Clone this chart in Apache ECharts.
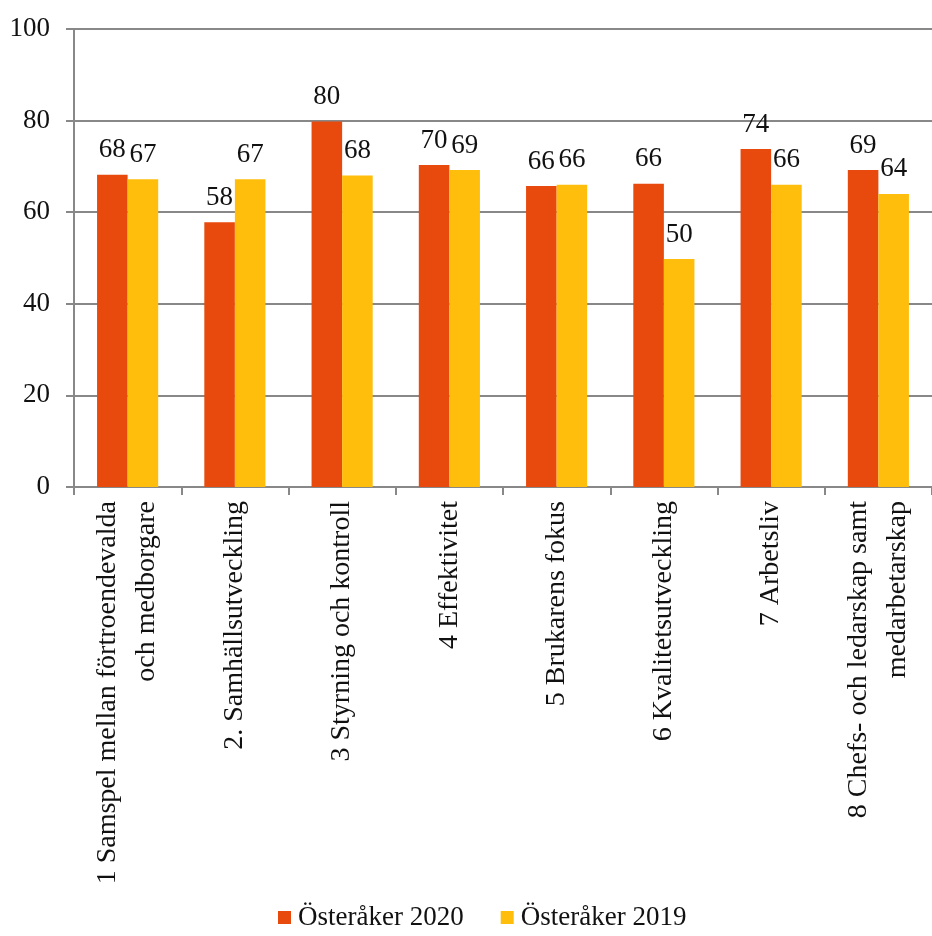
<!DOCTYPE html>
<html>
<head>
<meta charset="utf-8">
<script src="https://cdn.jsdelivr.net/npm/echarts@6/dist/echarts.min.js"></script>
<style>
  html, body { margin: 0; padding: 0; background: #fff; }
  #chart { width: 932px; height: 936px; }
</style>
</head>
<body>
<div id="chart"></div>
<script>
// kategorier och värden
const categories = [
  '1 Samspel mellan förtroendevalda\noch medborgare',
  '2. Samhällsutveckling',
  '3 Styrning och kontroll',
  '4 Effektivitet',
  '5 Brukarens fokus',
  '6 Kvalitetsutveckling',
  '7 Arbetsliv',
  '8 Chefs- och ledarskap samt\nmedarbetarskap'
];
const values2020 = [68.2, 57.8, 79.8, 70.3, 65.7, 66.2, 73.8, 69.2];
const values2019 = [67.2, 67.2, 68.0, 69.2, 66.0, 49.8, 66.0, 64.0];
const seriesNames = ['Österåker 2020', 'Österåker 2019'];
const yTicks = [0, 20, 40, 60, 80, 100];

const font = '"Liberation Serif", "Times New Roman", serif';
const chart = echarts.init(document.getElementById('chart'));

const label = {
  show: true,
  position: 'top',
  distance: 11,
  fontFamily: font,
  fontSize: 27,
  color: '#111',
  formatter: p => Math.round(p.value)
};

chart.setOption({
  animation: false,
  textStyle: { fontFamily: font },
  color: ['#E8490C', '#FFBE0B'],
  grid: { left: 74, top: 29, width: 868, bottom: 449 },
  legend: {
    top: 904,
    left: 278,
    padding: 0,
    icon: 'rect',
    itemWidth: 13,
    itemHeight: 13,
    itemGap: 37,
    textStyle: { fontFamily: font, fontSize: 27, color: '#111', padding: [0, 0, 0, 2] },
    data: seriesNames
  },
  xAxis: {
    type: 'category',
    data: categories,
    axisLine: { lineStyle: { color: '#888', width: 2 } },
    axisTick: { show: true, length: 8, lineStyle: { color: '#888', width: 2 } },
    axisLabel: {
      rotate: 90,
      interval: 0,
      margin: 14,
      fontFamily: font,
      fontSize: 28,
      lineHeight: 39,
      color: '#111'
    }
  },
  yAxis: {
    type: 'value',
    min: yTicks[0],
    max: yTicks[yTicks.length - 1],
    interval: 20,
    axisLine: { show: true, lineStyle: { color: '#888', width: 2 } },
    axisTick: { show: true, length: 8, lineStyle: { color: '#888', width: 2 } },
    splitLine: { lineStyle: { color: '#888', width: 2 } },
    axisLabel: {
      margin: 24,
      fontFamily: font,
      fontSize: 27,
      color: '#111'
    }
  },
  series: [
    {
      name: seriesNames[0],
      type: 'bar',
      data: values2020,
      barGap: '0%',
      barCategoryGap: '43%',
      label
    },
    {
      name: seriesNames[1],
      type: 'bar',
      data: values2019,
      barGap: '0%',
      barCategoryGap: '43%',
      label
    }
  ]
});
</script>
</body>
</html>
